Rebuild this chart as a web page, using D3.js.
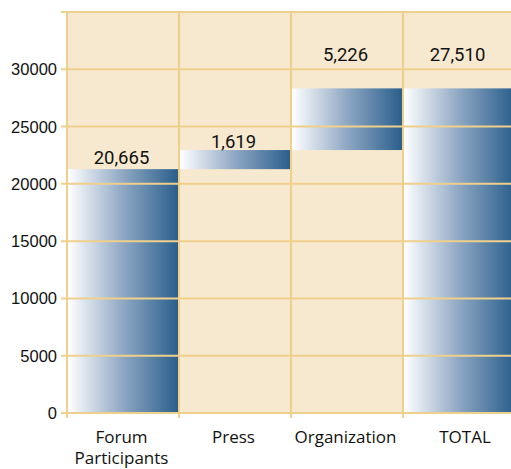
<!DOCTYPE html>
<html><head><meta charset="utf-8">
<script src="https://cdn.jsdelivr.net/npm/d3@7"></script>
<style>body{margin:0;background:#fff;}svg{display:block;}</style>
</head><body>
<svg id="c" width="511" height="469"></svg>
<script>
(function(){
const categories = ["Forum\nParticipants", "Press", "Organization", "TOTAL"];
const values = [20665, 1619, 5226, 27510];
const isTotal = [false, false, false, true];
const valueLabels = ["20,665", "1,619", "5,226", "27,510"];
const yTicks = [0, 5000, 10000, 15000, 20000, 25000, 30000, 35000];

const svg = d3.select("#c");
const mLeft = 67, mTop = 12, mBottom = 413, mRight = 515;
const x = d3.scaleBand().domain(categories).range([mLeft, mRight]).padding(0);
const y = d3.scaleLinear().domain([0, 35000]).range([mBottom, mTop]);
// bars in the reference are drawn on a slightly stretched scale
const yBar = d3.scaleLinear().domain([0, 35000]).range([mBottom, 0]);
const grid = "#efcf8c";

let run = 0;
const bars = categories.map((c, i) => {
  let s, e;
  if (isTotal[i]) { s = 0; e = values[i]; }
  else { s = run; e = run + values[i]; run = e; }
  return {c, s, e, label: valueLabels[i], i};
});

const defs = svg.append("defs");
const g = defs.append("linearGradient").attr("id", "bg").attr("x1", "0").attr("x2", "1").attr("y1", "0").attr("y2", "0");
g.append("stop").attr("offset", "0").attr("stop-color", "#ffffff");
g.append("stop").attr("offset", "0.5").attr("stop-color", "#8ea7c3");
g.append("stop").attr("offset", "1").attr("stop-color", "#2a5f8c");

svg.append("rect").attr("x", mLeft).attr("y", mTop).attr("width", mRight - mLeft).attr("height", mBottom - mTop).attr("fill", "#f7e9cf");

svg.selectAll("rect.bar").data(bars).enter().append("rect").attr("class", "bar")
  .attr("x", d => x(d.c) + 1).attr("width", x.bandwidth() - 2)
  .attr("y", d => yBar(d.e)).attr("height", d => yBar(d.s) - yBar(d.e))
  .attr("fill", "url(#bg)");

svg.selectAll("line.hg").data(yTicks).enter().append("line")
  .attr("x1", mLeft - 6).attr("x2", mRight).attr("y1", d => y(d)).attr("y2", d => y(d))
  .attr("stroke", grid).attr("stroke-width", 2);
svg.selectAll("line.vg").data(categories).enter().append("line")
  .attr("x1", d => x(d)).attr("x2", d => x(d)).attr("y1", mTop).attr("y2", mBottom + 5)
  .attr("stroke", grid).attr("stroke-width", 2);

svg.selectAll("text.yt").data(yTicks.filter(t => t <= 30000)).enter().append("text")
  .attr("x", 57).attr("y", d => y(d) + 6).attr("text-anchor", "end")
  .attr("font-family", "Liberation Sans, Arial, sans-serif").attr("font-size", 16.5).attr("fill", "#111")
  .text(d => d);

const lblOffset = [5, 2, 27, 27];
svg.selectAll("text.vl").data(bars).enter().append("text")
  .attr("x", d => x(d.c) + x.bandwidth() / 2 - 1.5)
  .attr("y", d => yBar(d.e) - lblOffset[d.i])
  .attr("text-anchor", "middle")
  .attr("font-family", "Roboto, sans-serif").attr("font-size", 18.5).attr("fill", "#111")
  .text(d => d.label);

svg.selectAll("text.cl").data(categories).enter().append("text")
  .attr("y", 443)
  .attr("text-anchor", "middle")
  .attr("font-family", "Open Sans, sans-serif").attr("font-size", 17).attr("fill", "#111")
  .each(function(d) {
    const lines = d.split("\n");
    const cx = x(d) + x.bandwidth() / 2 + (d === "TOTAL" ? 6 : -1.5);
    d3.select(this).selectAll("tspan").data(lines).enter().append("tspan")
      .attr("x", cx)
      .attr("dy", (l, k) => k === 0 ? 0 : 21).text(l => l);
  });
})();
</script>
</body></html>
